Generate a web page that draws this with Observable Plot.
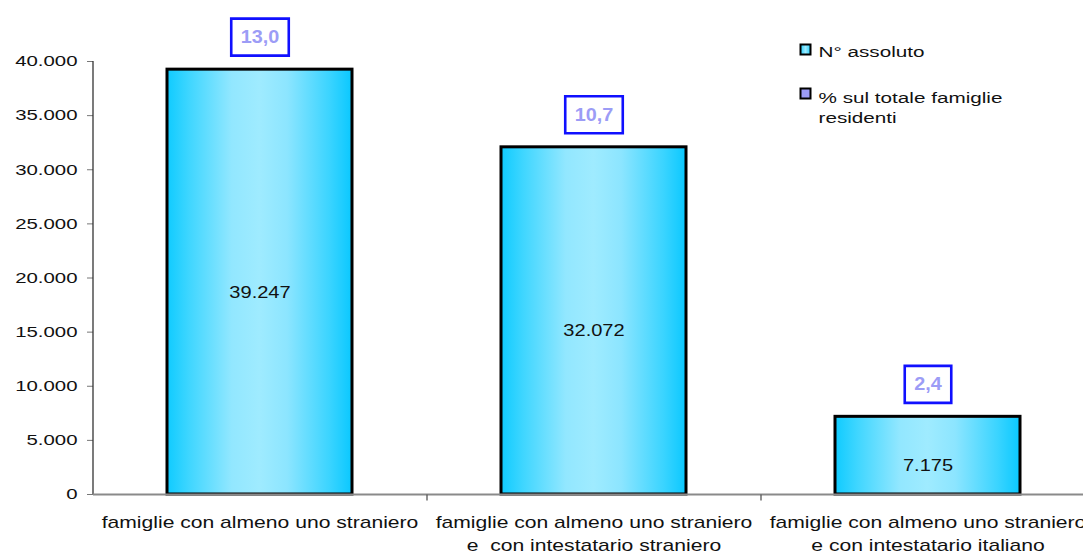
<!DOCTYPE html>
<html>
<head>
<meta charset="utf-8">
<script src="https://cdn.jsdelivr.net/npm/d3@7"></script>
<script src="https://cdn.jsdelivr.net/npm/@observablehq/plot@0.6"></script>
<style>
  html, body { margin: 0; padding: 0; background: #fff; overflow: hidden; }
</style>
</head>
<body>
<div id="chart"></div>
<script>
const categories = [
  "famiglie con almeno uno straniero",
  "famiglie con almeno uno straniero\ne  con intestatario straniero",
  "famiglie con almeno uno straniero\ne con intestatario italiano"
];
const counts = [39247, 32072, 7175];
const percents = [13.0, 10.7, 2.4];
const seriesNames = ["N° assoluto", "% sul totale famiglie\nresidenti"];
const yTicks = [0, 5000, 10000, 15000, 20000, 25000, 30000, 35000, 40000];

const data = categories.map((c, i) => ({cat: c, count: counts[i], pct: percents[i]}));

const it = d3.formatLocale({decimal: ",", thousands: ".", grouping: [3], currency: ["", "€"]});
const fmtInt = it.format(",d");
const fmtPct = it.format(".1f");

const FONT = "'Liberation Sans', Arial, sans-serif";
const S_AXIS = 1.36, S_CAT = 1.32, S_LEG = 1.38, S_VAL = 1.18, S_PCT = 1.1;

// measure text widths for the percentage boxes
const ctx = document.createElement("canvas").getContext("2d");
ctx.font = "bold 18px 'Liberation Sans'";
const textW = s => ctx.measureText(s).width * S_PCT;

const boxSym = (w, h) => ({draw(context) { context.rect(-w / 2, -h / 2, w, h); }});
const sqSym = {draw(context) { context.rect(-5, -5, 10, 10); }};
const tickSym = {draw(context) { context.moveTo(0, 0); context.lineTo(0, 6); }};

const gradient = () => {
  const defs = d3.create("svg:defs");
  const g = defs.append("linearGradient").attr("id", "barGrad")
    .attr("x1", "0").attr("x2", "1").attr("y1", "0").attr("y2", "0");
  [["0%", "#0fcbff"], ["12%", "#3fd6ff"], ["35%", "#92e7ff"], ["50%", "#9febff"],
   ["65%", "#8ce5ff"], ["88%", "#3ad4ff"], ["100%", "#0ac8ff"]]
    .forEach(([o, c]) => g.append("stop").attr("offset", o).attr("stop-color", c));
  const g2 = defs.append("linearGradient").attr("id", "legGrad")
    .attr("x1", "0").attr("x2", "1").attr("y1", "0").attr("y2", "0");
  [["0%", "#22cfff"], ["50%", "#9febff"], ["100%", "#22cfff"]]
    .forEach(([o, c]) => g2.append("stop").attr("offset", o).attr("stop-color", c));
  return defs.node();
};

const chart = Plot.plot({
  width: 1083,
  height: 554,
  marginLeft: 93,
  marginRight: 0,
  marginTop: 61,
  marginBottom: 60,
  style: {fontFamily: FONT, fontSize: "15px", color: "#111", background: "#fff"},
  x: {domain: categories, range: [93, 1095], paddingInner: 0.446, paddingOuter: 0.223, axis: null},
  y: {domain: [0, 40000], axis: null},
  marks: [
    gradient,
    Plot.axisY({ticks: yTicks, tickFormat: d => fmtInt(d), tickSize: 6, tickPadding: 10, label: null,
      stroke: "#777", fontSize: 15, fill: "#111"}),
    Plot.ruleX([categories[0]], {dx: -167, y1: 0, y2: 40000, stroke: "#333", strokeWidth: 1.3}),
    Plot.barY(data, {x: "cat", y: "count", fill: "url(#barGrad)", stroke: "#000", strokeWidth: 3}),
    Plot.ruleY([0], {stroke: "#8a8a8a", strokeWidth: 2}),
    Plot.dot(categories.slice(1), {x: d => d, y: () => 0, dx: -167, symbol: tickSym, stroke: "#555", strokeWidth: 1.3, fill: "none"}),
    Plot.text(data, {x: "cat", y: d => d.count / 2, dy: 10, text: d => fmtInt(d.count), fontSize: 17, fill: "#111"}),
    ...data.map(d => Plot.dot([d], {x: "cat", y: "count", dy: -32.5,
      symbol: boxSym(textW(fmtPct(d.pct)) + 19, 37), r: 10,
      fill: "#fff", stroke: "#1010ff", strokeWidth: 2.6})),
    Plot.text(data, {x: "cat", y: "count", dy: -32.5, text: d => fmtPct(d.pct), fontSize: 18,
      fontWeight: "bold", fill: "#9c9cf6"}),
    Plot.text(data, {x: "cat", y: 0, dy: 17, text: "cat", lineAnchor: "top", lineHeight: 1.45,
      fontSize: 16, fill: "#111"}),
    // legend
    Plot.dot([seriesNames[0]], {frameAnchor: "top-left", dx: 712, dy: -12, symbol: sqSym, r: 5,
      fill: "url(#legGrad)", stroke: "#000", strokeWidth: 2}),
    Plot.dot([seriesNames[1]], {frameAnchor: "top-left", dx: 712, dy: 32, symbol: sqSym, r: 5,
      fill: "#9c9cf6", stroke: "#000", strokeWidth: 2}),
    Plot.text([seriesNames[0]], {frameAnchor: "top-left", dx: 725, dy: -9, text: d => d,
      textAnchor: "start", lineAnchor: "middle", fontSize: 15, fill: "#111"}),
    Plot.text([seriesNames[1]], {frameAnchor: "top-left", dx: 725, dy: 27, text: d => d,
      textAnchor: "start", lineAnchor: "top", lineHeight: 1.35, fontSize: 15, fill: "#111"})
  ]
});

// horizontal stretch of text, as in the reference rendering
const stretchGroup = (g, s) => {
  g.querySelectorAll("text").forEach(t => {
    const tr = t.getAttribute("transform") || "";
    t.setAttribute("transform", tr + ` scale(${s},1)`);
  });
};
const axisG = chart.querySelector('g[aria-label="y-axis tick label"]');
if (axisG) stretchGroup(axisG, S_AXIS);
const textGroups = chart.querySelectorAll('g[aria-label="text"]');
const factors = [S_VAL, S_PCT, S_CAT, S_LEG, S_LEG];
textGroups.forEach((g, i) => { if (factors[i]) stretchGroup(g, factors[i]); });

document.getElementById("chart").appendChild(chart);
</script>
</body>
</html>
